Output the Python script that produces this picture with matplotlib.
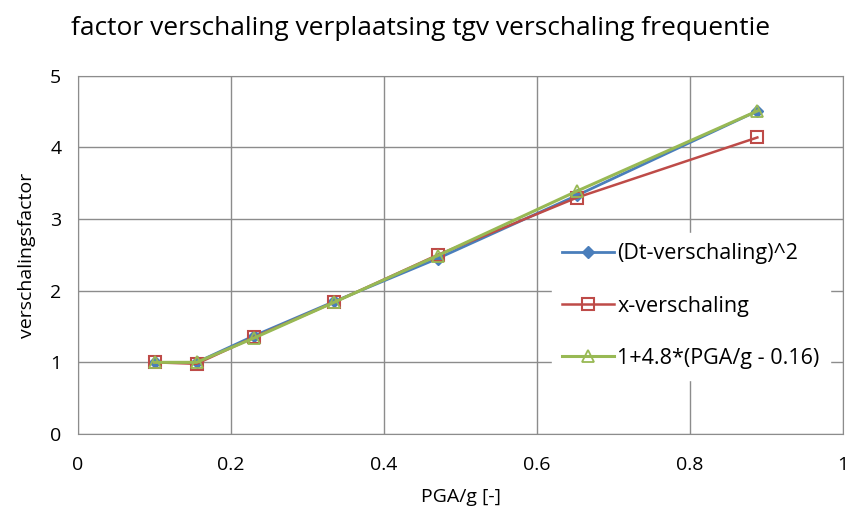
import matplotlib.pyplot as plt

# data
pga = [0.10, 0.155, 0.23, 0.335, 0.47, 0.652, 0.888]
dt_scaling_sq = [1.0, 1.0, 1.37, 1.85, 2.45, 3.33, 4.51]
x_scaling = [1.0, 0.98, 1.35, 1.84, 2.50, 3.30, 4.14]
fit_line = [1.0, 1.0, 1.34, 1.84, 2.49, 3.39, 4.51]

plt.rcParams['font.family'] = ['Open Sans', 'DejaVu Sans']

fig = plt.figure(figsize=(8.5, 5.19), dpi=100)
ax = fig.add_axes([0.0918, 0.1638, 0.9, 0.69])

ax.plot(pga, dt_scaling_sq, color='#4A7EBB', lw=2, marker='D', ms=6,
        mfc='#4A7EBB', mec='#4A7EBB', label='(Dt-verschaling)^2', zorder=3)
ax.plot(pga, x_scaling, color='#BE4B48', lw=1.8, marker='s', ms=9,
        mfc='none', mec='#BE4B48', mew=1.5, label='x-verschaling', zorder=4)
ax.plot(pga, fit_line, color='#98B954', lw=2.2, marker='^', ms=8,
        mfc='none', mec='#98B954', mew=1.3, label='1+4.8*(PGA/g - 0.16)', zorder=5)

ax.set_xlim(0, 1)
ax.set_ylim(0, 5)
ax.set_xticks([0, 0.2, 0.4, 0.6, 0.8, 1])
ax.set_xticklabels(['0', '0.2', '0.4', '0.6', '0.8', '1'])
ax.set_yticks([0, 1, 2, 3, 4, 5])
ax.tick_params(length=0, labelsize=14)
ax.tick_params(axis='x', pad=16)
ax.tick_params(axis='y', pad=12)
ax.grid(True, color='#8c8c8c', lw=1)
ax.set_axisbelow(True)
for s in ax.spines.values():
    s.set_color('#8c8c8c')

ax.set_xlabel('PGA/g [-]', fontsize=14, labelpad=10)
ax.set_ylabel('verschalingsfactor', fontsize=14, labelpad=10)
fig.text(0.495, 0.945, 'factor verschaling verplaatsing tgv verschaling frequentie',
         fontsize=19, ha='center', va='center')

leg = ax.legend(loc='center left', bbox_to_anchor=(0.605, 0.357), frameon=True,
                fontsize=15.5, labelspacing=1.45, handlelength=2.4, handletextpad=0.15,
                borderpad=0.5)
leg.get_frame().set_edgecolor('white')
leg.get_frame().set_alpha(1)
leg.get_frame().set_boxstyle('square', pad=0)

fig.savefig('out.png', dpi=100)
